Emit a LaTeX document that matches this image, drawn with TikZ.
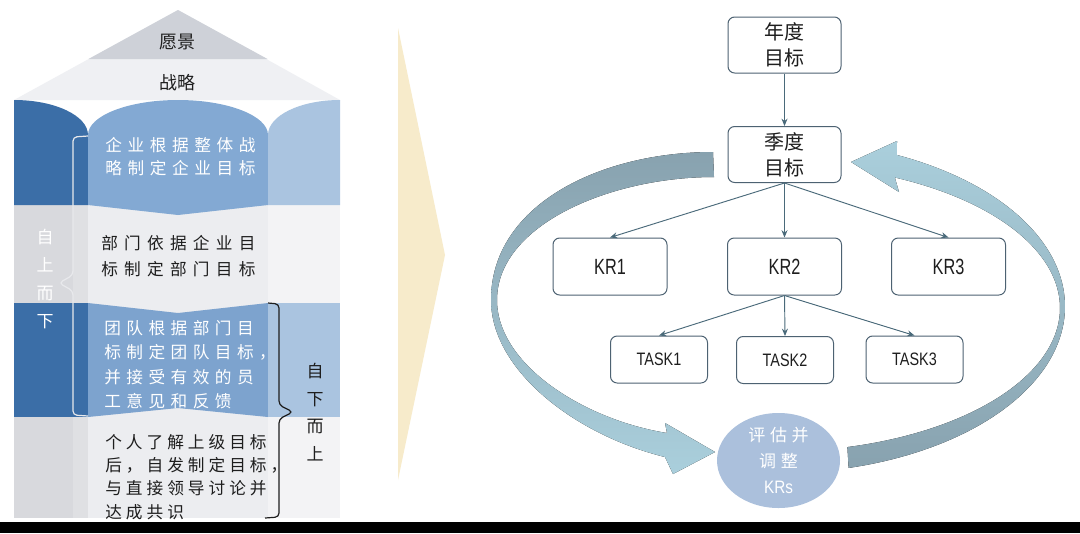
\documentclass[tikz,border=0pt]{standalone}
\usepackage{fontspec}
\usepackage{graphicx}
\setmainfont{Liberation Sans}
\newfontfamily\cjk{Noto Sans CJK SC}
\usetikzlibrary{arrows.meta,shapes.geometric}
\definecolor{dkblue}{HTML}{3B6EA7}
\definecolor{mdblue}{HTML}{83A9D3}
\definecolor{mdblueb}{HTML}{7DA3CE}
\definecolor{ltblue}{HTML}{AAC4E0}
\definecolor{roofgray}{HTML}{CED1D8}
\definecolor{roofl}{HTML}{EFF0F3}
\definecolor{colgray}{HTML}{D8D9DD}
\definecolor{colgrayb}{HTML}{DFE0E3}
\definecolor{cenlight}{HTML}{ECEDF0}
\definecolor{rtlight}{HTML}{F3F3F5}
\definecolor{ylw}{HTML}{F7EBCB}
\definecolor{arcdark}{HTML}{88A2AF}
\definecolor{arclight}{HTML}{AACFDC}
\definecolor{circ}{HTML}{ABC0DC}
\definecolor{boxline}{HTML}{4D6272}
\definecolor{arrowc}{HTML}{4A6A7A}
\definecolor{txt}{HTML}{1E1E1E}
\definecolor{bracelt}{HTML}{E8E9EC}
\def\sploop#1{\ifx#1\relax\else\kern\spk#1\expandafter\sploop\fi}
\def\spfirst#1{#1\sploop}
\newcommand\sptext[2]{\def\spk{#1}\spfirst#2\relax}
\tikzset{
  okr/.style={draw=boxline, line width=0.75pt, rounded corners=5pt, fill=white,
    inner sep=0pt, text=txt, align=center},
  bigbox/.style={okr, minimum width=84.75pt, minimum height=42pt,
    font=\cjk\fontsize{15}{19.5}\selectfont},
  krbox/.style={okr, minimum width=85.5pt, minimum height=42.75pt,
    font=\fontsize{16.5}{19}\selectfont},
  taskbox/.style={okr, minimum width=72.75pt, minimum height=35.25pt,
    font=\fontsize{13.5}{16}\selectfont},
  conn/.style={draw=arrowc, line width=0.7pt, -{Stealth[length=5.5pt,width=4.5pt]}},
  bandtxt/.style={anchor=west, inner sep=0pt, align=left},
  roottxt/.style={inner sep=0pt, text=txt, font=\cjk\fontsize{13.5}{16}\selectfont},
  vtxt/.style={inner sep=0pt, align=center, font=\cjk\fontsize{12.75}{20.8}\selectfont}
}
\begin{document}
\begin{tikzpicture}[x=0.75pt,y=-0.75pt]
\useasboundingbox (0,0) rectangle (1080,533);
\fill[white] (0,0) rectangle (1080,533);
\fill[black] (0,522) rectangle (1080,533);
% ---------- left panel ----------
\fill[roofl] (178,10) -- (14,100) -- (340,100) -- cycle;
\fill[roofgray] (178,10) -- (88.5,59) -- (267.5,59) -- cycle;
% light columns (bands 2 and 4)
\fill[colgray] (14,205) rectangle (73,518);
\fill[colgrayb] (73,205) rectangle (88,518);
\fill[cenlight] (88,205) rectangle (268,518);
\fill[rtlight] (268,205) rectangle (340,518);
% band 1
\fill[dkblue] (14,100) .. controls (54.9,100) and (88,115.7) .. (88,135) -- (88,205) -- (14,205) -- cycle;
\fill[mdblue] (88,135) .. controls (88,115.7) and (128.3,100) .. (178,100)
  .. controls (227.7,100) and (268,115.7) .. (268,135) -- (268,205) -- (178,215) -- (88,205) -- cycle;
\fill[ltblue] (268,135) .. controls (268,115.7) and (300.2,100) .. (340,100) -- (340,205) -- (268,205) -- cycle;
% band 3
\fill[dkblue] (14,303) rectangle (88,417);
\fill[mdblueb] (88,303) -- (178,313) -- (268,303) -- (268,417) -- (178,408) -- (88,417) -- cycle;
\fill[ltblue] (268,303) rectangle (340,417);
% braces
\draw[bracelt, line width=0.9pt, rounded corners=3pt]
  (88,136) -- (73,137) -- (73,275) -- (59,283) -- (73,291) -- (73,415) -- (88,416);
\draw[txt, line width=0.9pt, rounded corners=3pt]
  (268,303) -- (279,304) -- (279,405) -- (293,412) -- (279,419) -- (279,517) -- (265,518);
% texts
\node[roottxt] (vision) at (177,42) {愿景};
\node[roottxt] (strategy) at (177,83) {战略};
\node[bandtxt, text=white, font=\cjk\fontsize{12.5}{17.3}\selectfont] (t1) at (105,156.5)
  {\sptext{4.2pt}{企业根据整体战}\\\sptext{4.2pt}{略制定企业目标}};
\node[bandtxt, text=txt, font=\cjk\fontsize{12.5}{19.5}\selectfont] (t2) at (101,256)
  {\sptext{4.7pt}{部门依据企业目}\\\sptext{4.7pt}{标制定部门目标}};
\node[bandtxt, text=white, font=\cjk\fontsize{12.5}{18.25}\selectfont] (t3) at (104,364.5)
  {\sptext{4.1pt}{团队根据部门目}\\\sptext{4.1pt}{标制定团队目标，}\\\sptext{4.1pt}{并接受有效的员}\\\sptext{4.1pt}{工意见和反馈}};
\node[bandtxt, text=txt, font=\cjk\fontsize{12.5}{17.5}\selectfont] (t4) at (105,477)
  {\sptext{3pt}{个人了解上级目标}\\\sptext{3pt}{后，自发制定目标，}\\\sptext{3pt}{与直接领导讨论并}\\\sptext{3pt}{达成共识}};
\node[vtxt, text=white] (topdown) at (45,279) {自\\上\\而\\下};
\node[vtxt, text=txt] (bottomup) at (315,412) {自\\下\\而\\上};
% ---------- middle chevron ----------
\fill[ylw] (398,28) -- (445,255) -- (398,480) -- cycle;
% ---------- right panel: cycle arrows ----------
\fill[top color=arcdark, bottom color=arclight]
  (713,152) .. controls (600,152) and (491,205) .. (491,300)
  .. controls (491,370) and (575,435) .. (665,457)
  -- (673,474) -- (715,452) -- (665,423) -- (667,433)
  .. controls (585,420) and (497,365) .. (497,300)
  .. controls (497,225) and (610,177) .. (714,177) -- cycle;
\fill[top color=arclight, bottom color=arcdark]
  plot[domain=75.6:-65.4, samples=80] ({777+288*cos(\x)},{306.5+166.7*sin(\x)})
  -- (897,141) -- (851,162) -- (899,192)
  -- plot[domain=-65.4:75.6, samples=80] ({777+283*cos(\x)},{308+143.6*sin(\x)}) -- cycle;
% ---------- right panel: nodes ----------
\node[bigbox] (annual) at (784.5,45) {年度\\目标};
\node[bigbox] (quarter) at (784.5,154.5) {季度\\目标};
\node[krbox] (kr1) at (610,266.5) {\scalebox{0.74}[1]{KR1}};
\node[krbox] (kr2) at (784.5,266.5) {\scalebox{0.74}[1]{KR2}};
\node[krbox] (kr3) at (948.5,266.5) {\scalebox{0.74}[1]{KR3}};
\node[taskbox] (task1) at (659,359.5) {\scalebox{0.8}[1]{TASK1}};
\node[taskbox] (task2) at (785,360) {\scalebox{0.8}[1]{TASK2}};
\node[taskbox] (task3) at (914.5,359.5) {\scalebox{0.8}[1]{TASK3}};
\node[ellipse, fill=circ, minimum width=92.25pt, minimum height=71.25pt, inner sep=0pt,
  text=white, align=center, font=\cjk\fontsize{12.75}{19.5}\selectfont] (evaluate) at (778.5,460.5)
  {\sptext{3.4pt}{评估并}\\\sptext{3.4pt}{调整}\\{\fontspec{Liberation Sans}\fontsize{13.5}{19.5}\selectfont\scalebox{0.85}[1]{KRs}}};
% ---------- connectors ----------
\draw[conn] (annual.south) -- (quarter.north);
\draw[conn] (quarter.south) -- (kr1.north);
\draw[conn] (quarter.south) -- (kr2.north);
\draw[conn] (quarter.south) -- (kr3.north);
\draw[conn] (kr2.south) -- (task1.north);
\draw[conn] (kr2.south) -- (task2.north);
\draw[conn] (kr2.south) -- (task3.north);
\end{tikzpicture}
\end{document}
